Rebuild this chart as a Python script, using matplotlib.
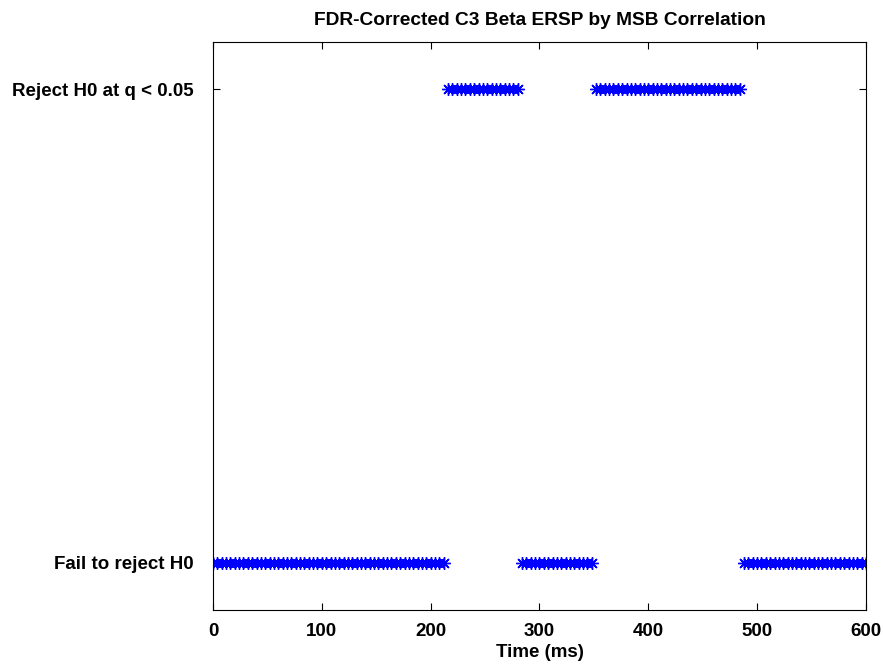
import numpy as np
import matplotlib
matplotlib.use("Agg")
import matplotlib.pyplot as plt

plt.rcParams["font.family"] = ["Liberation Sans", "DejaVu Sans"]
plt.rcParams["font.weight"] = "bold"

# Time samples (ms) and the significant (reject H0) windows
times = np.arange(0, 601, 4)
reject_windows = [(216, 280), (352, 484)]
y_labels = ["Fail to reject H0", "Reject H0 at q < 0.05"]
x_ticks = [0, 100, 200, 300, 400, 500, 600]

decision = np.zeros_like(times, dtype=float)
for lo, hi in reject_windows:
    decision[(times >= lo) & (times <= hi)] = 1

fig = plt.figure(figsize=(8.83, 6.65), dpi=100)
ax = fig.add_axes([0.2412, 0.0827, 0.7395, 0.8541])

# MATLAB-style asterisk marker (plus + cross)
ax.plot(times, decision, linestyle="none", marker=(8, 2, 0), color="blue",
        markersize=9, markeredgewidth=1.0)

ax.set_xlim(0, 600)
ax.set_ylim(-0.1, 1.1)
ax.set_xticks(x_ticks)
ax.set_yticks([0, 1])
ax.set_yticklabels(y_labels)
ax.tick_params(direction="in", top=True, right=True, labelsize=13.5,
               length=5, width=0.8)
ax.tick_params(axis="y", pad=14)
ax.tick_params(axis="x", pad=9)
for s in ax.spines.values():
    s.set_linewidth(0.8)

ax.set_xlabel("Time (ms)", fontsize=13.5, fontweight="bold", labelpad=3)
ax.set_title("FDR-Corrected C3 Beta ERSP by MSB Correlation",
             fontsize=13.8, fontweight="bold", pad=12)

fig.savefig("out.png", dpi=100)
